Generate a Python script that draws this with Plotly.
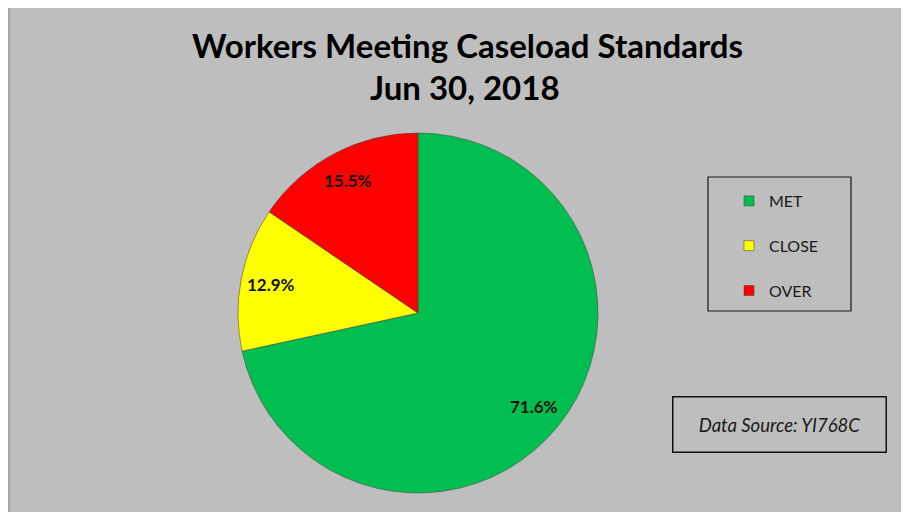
import math
import plotly.graph_objects as go

W, H = 909, 512
OFF = 8  # page body margin of the html page

# ---- data ----
labels = ["MET", "CLOSE", "OVER"]
values = [71.6, 12.9, 15.5]
colors = ["#00BF50", "#FFFF00", "#FF0000"]
title_line1 = "Workers Meeting Caseload Standards"
title_line2 = "Jun 30, 2018"
source_text = "Data Source: YI768C"


def fx(x):
    return (x - OFF) / W


def fy(y):
    return 1 - (y - OFF) / H


FONT = "Lato"

# pie geometry (in screen px of the reference)
PX0, PX1, PY0, PY1 = 238, 598, 133, 493
CX, CY, R = (PX0 + PX1) / 2, (PY0 + PY1) / 2, (PX1 - PX0) / 2

fig = go.Figure()

fig.add_trace(go.Pie(
    labels=labels,
    values=values,
    sort=False,
    direction="clockwise",
    rotation=0,
    marker=dict(colors=colors, line=dict(color="rgba(70,70,70,0.55)", width=1)),
    textinfo="none",
    domain=dict(x=[fx(PX0), fx(PX1)], y=[fy(PY1), fy(PY0)]),
    showlegend=False,
    hoverinfo="label+percent",
))

# legend entries (one group each so the gap can be spaced like the original)
for lab, col in zip(labels, colors):
    fig.add_trace(go.Scatter(
        x=[None], y=[None], mode="markers", name=lab, legendgroup=lab,
        marker=dict(symbol="square", size=10, color=col,
                    line=dict(color="rgba(60,60,60,0.5)", width=1)),
    ))

shapes = [
    dict(type="rect", xref="paper", yref="paper", x0=fx(9), x1=fx(930), y0=fy(530), y1=fy(5),
         fillcolor="#BEBEBE", line=dict(color="#A8A8A8", width=2), layer="below"),
    dict(type="rect", xref="paper", yref="paper", x0=fx(708), x1=fx(851), y0=fy(311), y1=fy(177),
         fillcolor="rgba(0,0,0,0)", line=dict(color="#1a1a1a", width=1.2), layer="above"),
]

annotations = [
    dict(text="<b>" + title_line1 + "</b>", x=fx(467), y=fy(45), xref="paper", yref="paper",
         xanchor="center", yanchor="middle", showarrow=False,
         font=dict(family=FONT, size=33, color="#000000")),
    dict(text="<b>" + title_line2 + "</b>", x=fx(465), y=fy(87), xref="paper", yref="paper",
         xanchor="center", yanchor="middle", showarrow=False,
         font=dict(family=FONT, size=33, color="#000000")),
    dict(text="<i>" + source_text + "</i>", x=fx(779.5), y=fy(424), xref="paper", yref="paper",
         xanchor="center", yanchor="middle", showarrow=False,
         width=212, height=54, borderpad=0, bordercolor="#111111", borderwidth=1.5,
         font=dict(family=FONT, size=18.5, color="#1a1a1a")),
]

# percentage labels placed along each slice's mid-angle (clockwise from 12 o'clock)
total = sum(values)
cum = 0.0
for v in values:
    mid = (cum + v / 2) / total * 2 * math.pi
    cum += v
    lx = CX + 0.83 * R * math.sin(mid)
    ly = CY - 0.83 * R * math.cos(mid)
    annotations.append(dict(
        text="<b>%.1f%%</b>" % (v / total * 100), x=fx(lx), y=fy(ly),
        xref="paper", yref="paper", xanchor="center", yanchor="middle", showarrow=False,
        font=dict(family=FONT, size=17, color="#111111")))

fig.update_layout(
    width=W, height=H,
    margin=dict(l=0, r=0, t=0, b=0),
    paper_bgcolor="#FFFFFF",
    plot_bgcolor="rgba(0,0,0,0)",
    xaxis=dict(visible=False),
    yaxis=dict(visible=False),
    shapes=shapes,
    annotations=annotations,
    legend=dict(x=fx(729), y=fy(184), xanchor="left", yanchor="top",
                bgcolor="rgba(0,0,0,0)", borderwidth=0, tracegroupgap=21,
                font=dict(family=FONT, size=16, color="#1a1a1a")),
    showlegend=True,
)

fig.write_html("out.html")
